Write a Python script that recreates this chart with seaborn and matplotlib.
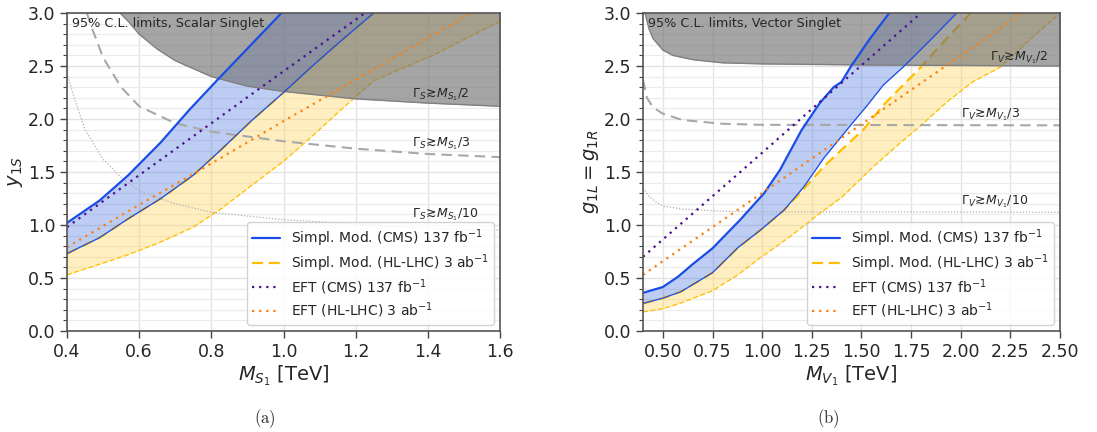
import numpy as np
import matplotlib
matplotlib.use("Agg")
import matplotlib.pyplot as plt
import seaborn as sns
from matplotlib.ticker import MultipleLocator, FormatStrFormatter

# ---------------- data: (a) scalar singlet ----------------
s_cms_up_x = [0.40, 0.49, 0.57, 0.66, 0.74, 0.82, 0.91, 1.00]
s_cms_up_y = [1.02, 1.23, 1.47, 1.78, 2.09, 2.38, 2.70, 3.02]
s_cms_lo_x = [0.40, 0.49, 0.57, 0.66, 0.75, 0.83, 0.91, 1.00, 1.08, 1.16, 1.25]
s_cms_lo_y = [0.73, 0.88, 1.06, 1.25, 1.47, 1.72, 1.98, 2.25, 2.50, 2.74, 3.00]
s_hl_up_x = [0.40, 0.49, 0.57, 0.66, 0.75, 0.83, 0.91, 1.00, 1.08, 1.16, 1.25]
s_hl_up_y = [0.73, 0.88, 1.06, 1.25, 1.47, 1.72, 1.98, 2.25, 2.50, 2.74, 3.00]
s_hl_lo_x = [0.40, 0.49, 0.57, 0.66, 0.75, 0.83, 0.91, 1.00, 1.08, 1.18, 1.25, 1.33, 1.42, 1.50, 1.60]
s_hl_lo_y = [0.53, 0.63, 0.72, 0.84, 0.98, 1.16, 1.37, 1.60, 1.84, 2.15, 2.36, 2.48, 2.61, 2.75, 2.92]
s_eft_cms_x = [0.40, 0.60, 0.80, 1.00, 1.23]
s_eft_cms_y = [0.98, 1.47, 1.96, 2.45, 3.01]
s_eft_hl_x = [0.40, 0.60, 0.80, 1.00, 1.20, 1.53]
s_eft_hl_y = [0.79, 1.19, 1.58, 1.98, 2.37, 3.02]
s_w2_x = [0.547, 0.57, 0.60, 0.65, 0.70, 0.80, 0.90, 1.00, 1.20, 1.40, 1.60]
s_w2_y = [3.00, 2.92, 2.80, 2.66, 2.55, 2.40, 2.31, 2.26, 2.19, 2.15, 2.12]
s_w3_x = [0.455, 0.47, 0.50, 0.55, 0.60, 0.70, 0.80, 1.00, 1.20, 1.40, 1.60]
s_w3_y = [3.00, 2.85, 2.58, 2.30, 2.12, 1.96, 1.88, 1.79, 1.72, 1.67, 1.64]
s_w10_x = [0.40, 0.42, 0.45, 0.50, 0.55, 0.60, 0.70, 0.80, 1.00, 1.20, 1.40, 1.60]
s_w10_y = [2.43, 2.20, 1.90, 1.62, 1.45, 1.32, 1.20, 1.12, 1.05, 1.01, 0.97, 0.95]

# ---------------- data: (b) vector singlet ----------------
v_cms_up_x = [0.40, 0.50, 0.575, 0.65, 0.75, 0.89, 1.01, 1.09, 1.20, 1.29, 1.36, 1.40, 1.445, 1.54, 1.64]
v_cms_up_y = [0.36, 0.415, 0.51, 0.63, 0.78, 1.05, 1.30, 1.52, 1.90, 2.15, 2.30, 2.35, 2.49, 2.75, 3.00]
v_cms_lo_x = [0.40, 0.50, 0.59, 0.75, 0.88, 0.99, 1.11, 1.21, 1.31, 1.445, 1.53, 1.61, 1.71, 1.85, 1.98]
v_cms_lo_y = [0.26, 0.31, 0.37, 0.55, 0.79, 0.95, 1.14, 1.36, 1.63, 1.94, 2.13, 2.32, 2.49, 2.75, 3.00]
v_hl_up_x = [0.40, 0.50, 0.59, 0.75, 0.88, 0.99, 1.11, 1.19, 1.31, 1.40, 1.51, 1.61, 1.71, 1.80, 1.90, 2.05]
v_hl_up_y = [0.26, 0.31, 0.37, 0.55, 0.79, 0.95, 1.14, 1.30, 1.55, 1.71, 1.90, 2.13, 2.32, 2.49, 2.70, 3.00]
v_hl_lo_x = [0.40, 0.50, 0.60, 0.75, 0.87, 0.99, 1.14, 1.29, 1.40, 1.56, 1.68, 1.80, 1.93, 2.06, 2.20, 2.35, 2.50]
v_hl_lo_y = [0.18, 0.21, 0.27, 0.38, 0.52, 0.69, 0.89, 1.11, 1.26, 1.55, 1.75, 1.94, 2.16, 2.35, 2.49, 2.75, 3.00]
v_eft_cms_x = [0.40, 0.89, 1.29, 1.80]
v_eft_cms_y = [0.70, 1.50, 2.16, 3.00]
v_eft_hl_x = [0.40, 0.89, 1.50, 2.31]
v_eft_hl_y = [0.53, 1.16, 1.95, 3.00]
v_w2_x = [0.41, 0.43, 0.45, 0.50, 0.55, 0.65, 0.80, 1.00, 1.50, 2.50]
v_w2_y = [3.00, 2.85, 2.76, 2.65, 2.60, 2.56, 2.53, 2.52, 2.51, 2.50]
v_w3_x = [0.40, 0.42, 0.45, 0.50, 0.60, 0.80, 1.00, 2.50]
v_w3_y = [2.37, 2.20, 2.11, 2.05, 1.99, 1.955, 1.945, 1.94]
v_w10_x = [0.40, 0.43, 0.47, 0.50, 0.60, 0.80, 1.00, 2.50]
v_w10_y = [1.35, 1.27, 1.21, 1.18, 1.15, 1.13, 1.125, 1.12]

legend_labels = [r"Simpl. Mod. (CMS) 137 fb$^{-1}$",
                 r"Simpl. Mod. (HL-LHC) 3 ab$^{-1}$",
                 r"EFT (CMS) 137 fb$^{-1}$",
                 r"EFT (HL-LHC) 3 ab$^{-1}$"]

BLUE = "#1a4de6"
BLUE_FILL = "#3366dd"
YEL = "#ffbf00"
YEL_FILL = "#ffd24d"
PURP = "#4b0f8f"
ORNG = "#ff7f0e"

sns.set_theme(style="whitegrid")
plt.rcParams['font.family'] = ['DejaVu Sans']
plt.rcParams['mathtext.fontset'] = 'dejavusans'

fig = plt.figure(figsize=(10.97, 4.32), dpi=100)
axA = fig.add_axes([67/1097, 1 - 331/432, 433/1097, 318/432])
axB = fig.add_axes([643/1097, 1 - 331/432, 417/1097, 318/432])


def line(ax, x, y, **kw):
    sns.lineplot(x=x, y=y, ax=ax, sort=False, estimator=None, **kw)


def panel(ax, xlim, d, title, wlab_x, wlab_y, wlabs):
    (cu_x, cu_y, cl_x, cl_y, hu_x, hu_y, hl_x, hl_y,
     ec_x, ec_y, eh_x, eh_y, w2_x, w2_y, w3_x, w3_y, w10_x, w10_y) = d
    xg = np.linspace(xlim[0], xlim[1], 800)
    # bands
    ax.fill_between(xg, np.interp(xg, hl_x, hl_y), np.interp(xg, hu_x, hu_y),
                    color=YEL_FILL, alpha=0.35, lw=0, zorder=1)
    ax.fill_between(xg, np.interp(xg, cl_x, cl_y), np.interp(xg, cu_x, cu_y),
                    color=BLUE_FILL, alpha=0.32, lw=0, zorder=1.1)
    # yellow lines (below the grey region)
    line(ax, hu_x, hu_y, color=YEL, lw=1.6, linestyle=(0, (5, 2.5)), zorder=1.5,
         label=legend_labels[1])
    line(ax, hl_x, hl_y, color=YEL, lw=0.9, linestyle=(0, (4, 2)), zorder=1.5)
    # width lines
    line(ax, w3_x, w3_y, color="#a8a8a8", lw=1.5, linestyle=(0, (5, 3)), zorder=1.6)
    line(ax, w10_x, w10_y, color="#b0b0b0", lw=0.9, linestyle=(0, (1, 1.5)), zorder=1.6)
    # grey excluded region
    ax.fill_between(xg, np.interp(xg, w2_x, w2_y), 3.0, color="#6e6e6e",
                    alpha=0.62, lw=0, zorder=2)
    line(ax, w2_x, w2_y, color="#808080", lw=1.0, zorder=2.1)
    # blue + EFT lines (on top)
    line(ax, cu_x, cu_y, color=BLUE, lw=1.6, zorder=3, label=legend_labels[0])
    line(ax, cl_x, cl_y, color=BLUE, lw=0.9, zorder=3)
    line(ax, ec_x, ec_y, color=PURP, lw=1.6, linestyle=(0, (1, 2.2)), zorder=3,
         label=legend_labels[2])
    line(ax, eh_x, eh_y, color=ORNG, lw=1.6, linestyle=(0, (1, 2.2)), zorder=3,
         label=legend_labels[3])

    ax.set_xlim(*xlim)
    ax.set_ylim(0, 3.0)
    ax.yaxis.set_major_locator(MultipleLocator(0.5))
    ax.yaxis.set_minor_locator(MultipleLocator(0.1))
    ax.yaxis.set_major_formatter(FormatStrFormatter("%.1f"))
    ax.grid(True, which="major", color="#e3e3e3", lw=1.0)
    ax.grid(True, which="minor", axis="y", color="#ececec", lw=0.9)
    ax.set_axisbelow(True)
    ax.tick_params(which="major", direction="out", length=5, width=1.0,
                   color="#444444", labelsize=12.5, left=True, bottom=True)
    ax.tick_params(which="minor", direction="out", length=3, width=0.8,
                   color="#444444", left=True)
    for sp in ax.spines.values():
        sp.set_color("#555555")
        sp.set_linewidth(1.2)
        sp.set_zorder(5)

    ax.text(0.012, 0.988, title, transform=ax.transAxes, ha="left", va="top",
            fontsize=9.2, zorder=6)
    for lab, yy, xx in zip(wlabs, wlab_y, wlab_x):
        ax.text(xx, yy, lab, ha="left", va="center", fontsize=9, zorder=6)

    h, l = ax.get_legend_handles_labels()
    order = [l.index(s) for s in legend_labels]
    ax.legend([h[i] for i in order], [l[i] for i in order], loc="lower right",
              fontsize=10, frameon=True, framealpha=0.85, edgecolor="#cccccc",
              fancybox=True, borderpad=0.35, labelspacing=0.25,
              borderaxespad=0.45)


panel(axA, (0.4, 1.6),
      (s_cms_up_x, s_cms_up_y, s_cms_lo_x, s_cms_lo_y, s_hl_up_x, s_hl_up_y,
       s_hl_lo_x, s_hl_lo_y, s_eft_cms_x, s_eft_cms_y, s_eft_hl_x, s_eft_hl_y,
       s_w2_x, s_w2_y, s_w3_x, s_w3_y, s_w10_x, s_w10_y),
      "95% C.L. limits, Scalar Singlet",
      [1.355, 1.355, 1.355], [2.23, 1.77, 1.10],
      [r"$\Gamma_S\!\gtrsim\!M_{S_1}/2$", r"$\Gamma_S\!\gtrsim\!M_{S_1}/3$",
       r"$\Gamma_S\!\gtrsim\!M_{S_1}/10$"])
axA.xaxis.set_major_locator(MultipleLocator(0.2))
axA.xaxis.set_major_formatter(FormatStrFormatter("%.1f"))
axA.set_xlabel(r"$M_{S_1}$ [TeV]", fontsize=14, labelpad=2)
axA.set_ylabel(r"$y_{1S}$", fontsize=14, labelpad=2)

panel(axB, (0.4, 2.5),
      (v_cms_up_x, v_cms_up_y, v_cms_lo_x, v_cms_lo_y, v_hl_up_x, v_hl_up_y,
       v_hl_lo_x, v_hl_lo_y, v_eft_cms_x, v_eft_cms_y, v_eft_hl_x, v_eft_hl_y,
       v_w2_x, v_w2_y, v_w3_x, v_w3_y, v_w10_x, v_w10_y),
      "95% C.L. limits, Vector Singlet",
      [2.15, 2.0, 2.0], [2.58, 2.04, 1.22],
      [r"$\Gamma_V\!\gtrsim\!M_{V_1}/2$", r"$\Gamma_V\!\gtrsim\!M_{V_1}/3$",
       r"$\Gamma_V\!\gtrsim\!M_{V_1}/10$"])
axB.set_xticks([0.5, 0.75, 1.0, 1.25, 1.5, 1.75, 2.0, 2.25, 2.5])
axB.xaxis.set_major_formatter(FormatStrFormatter("%.2f"))
axB.set_xlabel(r"$M_{V_1}$ [TeV]", fontsize=14, labelpad=2)
axB.set_ylabel(r"$g_{1L} = g_{1R}$", fontsize=14, labelpad=2)

fig.text(265/1097, 1 - 419/432, r"$\mathrm{(a)}$", ha="center", va="center",
         fontsize=12, math_fontfamily="cm")
fig.text(828/1097, 1 - 419/432, r"$\mathrm{(b)}$", ha="center", va="center",
         fontsize=12, math_fontfamily="cm")

fig.savefig("out.png", dpi=100)
